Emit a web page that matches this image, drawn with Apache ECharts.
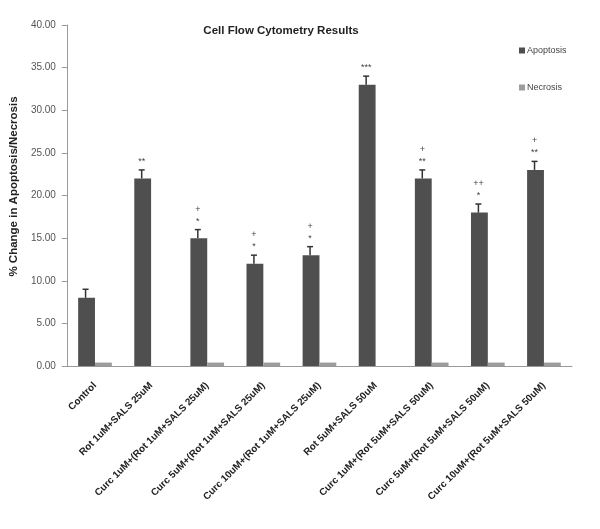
<!DOCTYPE html>
<html><head><meta charset="utf-8">
<script src="https://cdn.jsdelivr.net/npm/echarts@6/dist/echarts.min.js"></script>
<style>html,body{margin:0;padding:0;background:#fff}#c{width:600px;height:529px}</style>
</head><body><div id="c"></div>
<script>
var categories = ["Control","Rot 1uM+SALS 25uM","Curc 1uM+(Rot 1uM+SALS 25uM)","Curc 5uM+(Rot 1uM+SALS 25uM)","Curc 10uM+(Rot 1uM+SALS 25uM)","Rot 5uM+SALS 50uM","Curc 1uM+(Rot 5uM+SALS 50uM)","Curc 5uM+(Rot 5uM+SALS 50uM)","Curc 10uM+(Rot 5uM+SALS 50uM)"];
var apoptosis = [8, 22, 15, 12, 13, 33, 22, 18, 23];
var apoptosisErr = [1, 1, 1, 1, 1, 1, 1, 1, 1];
var necrosis = [0.4, 0, 0.4, 0.4, 0.4, 0, 0.4, 0.4, 0.4];
var marksLine1 = ["", "", "+", "+", "+", "", "+", "++", "+"];
var marksLine2 = ["", "**", "*", "*", "*", "***", "**", "*", "**"];
var yTicks = {min: 0, max: 40, interval: 5};

var chart = echarts.init(document.getElementById('c'), null, {renderer: 'canvas'});
var font = '"Liberation Sans", Arial, sans-serif';
var errData = categories.map(function(c, i){ return [i, apoptosis[i], apoptosis[i] + apoptosisErr[i], marksLine1[i], marksLine2[i]]; });

chart.setOption({
  animation: false,
  title: {text: 'Cell Flow Cytometry Results', left: 276, top: 20, textAlign: 'center',
    textStyle: {fontFamily: font, fontSize: 11.5, fontWeight: 'bold', color: '#222'}},
  legend: {orient: 'vertical', left: 514, top: 41, itemGap: 28, itemWidth: 6, itemHeight: 6,
    icon: 'rect', textStyle: {fontFamily: font, fontSize: 9, color: '#444', padding: [0,0,0,-3]},
    data: ['Apoptosis', 'Necrosis']},
  grid: {left: 64, right: 28, top: 25, bottom: 163},
  xAxis: {type: 'category', data: categories,
    axisLine: {lineStyle: {color: '#999'}}, axisTick: {show: false},
    axisLabel: {rotate: 45, interval: 0, margin: 18, fontFamily: font, fontSize: 9.9, fontWeight: 'bold', color: '#222'}},
  yAxis: {type: 'value', min: yTicks.min, max: yTicks.max, interval: yTicks.interval,
    name: '% Change in Apoptosis/Necrosis', nameLocation: 'middle', nameGap: 38,
    nameTextStyle: {fontFamily: font, fontSize: 11.5, fontWeight: 'bold', color: '#222', padding: [0,0,0,18]},
    axisLine: {show: true, lineStyle: {color: '#999'}},
    axisTick: {show: true, length: 5, lineStyle: {color: '#999'}},
    splitLine: {show: false},
    axisLabel: {fontFamily: font, fontSize: 10, color: '#555', margin: 11,
      formatter: function(v){ return v.toFixed(2); }}},
  series: [
    {name: 'Apoptosis', type: 'bar', data: apoptosis, barGap: '0%', barCategoryGap: '40%',
      itemStyle: {color: '#4f4f4f'}},
    {name: 'Necrosis', type: 'bar', data: necrosis, itemStyle: {color: '#9c9c9c'}},
    {type: 'custom', data: errData, z: 10, silent: true,
      renderItem: function(params, api){
        var i = api.value(0);
        var bw = api.size([1, 0])[0];
        var off = -bw * 0.6 * 0.25;
        var base = api.coord([i, api.value(1)]);
        var top = api.coord([i, api.value(2)]);
        var x = base[0] + off - 1;
        var children = [
          {type: 'line', shape: {x1: x, y1: base[1], x2: x, y2: top[1]}, style: {stroke: '#333', lineWidth: 1.5}},
          {type: 'line', shape: {x1: x - 3, y1: top[1], x2: x + 3, y2: top[1]}, style: {stroke: '#333', lineWidth: 1.5}}
        ];
        var l1 = errData[params.dataIndex][3], l2 = errData[params.dataIndex][4];
        if (l2) children.push({type: 'text', style: {text: l2, x: x, y: top[1] - 4, textAlign: 'center', textVerticalAlign: 'bottom', font: '9px ' + font, fill: '#444'}});
        if (l1) children.push({type: 'text', style: {text: l1, x: x, y: top[1] - 16, textAlign: 'center', textVerticalAlign: 'bottom', font: '9px ' + font, fill: '#444'}});
        return {type: 'group', children: children};
      }}
  ]
});
</script></body></html>
